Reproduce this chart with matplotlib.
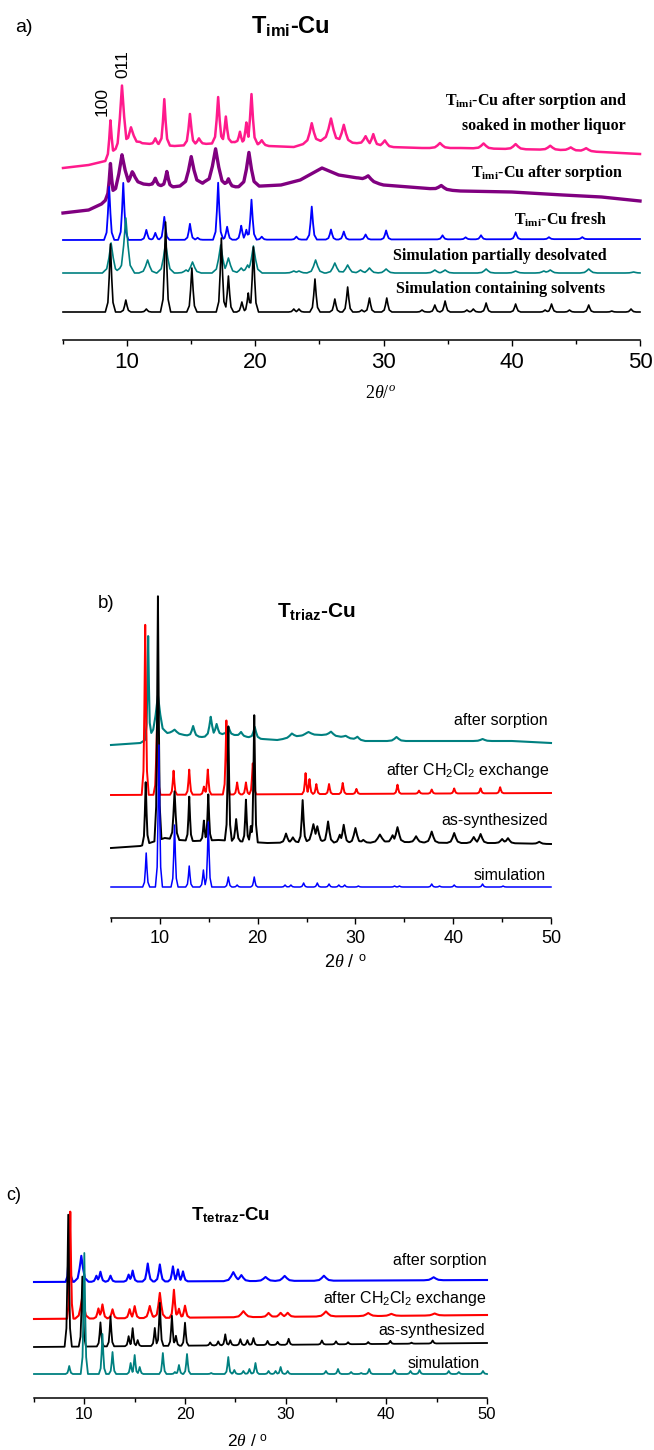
import numpy as np
import matplotlib
matplotlib.use('Agg')
import matplotlib.pyplot as plt

plt.rcParams['font.family'] = ['Liberation Sans', 'DejaVu Sans']
plt.rcParams['mathtext.fontset'] = 'custom'
plt.rcParams['mathtext.rm'] = 'Liberation Serif'
plt.rcParams['mathtext.it'] = 'Liberation Serif:italic'
plt.rcParams['mathtext.bf'] = 'Liberation Serif:bold'

W, H = 654, 1450

# ---------------- data (2theta in degrees, intensity in arbitrary offset units) ----------------
major_ticks = [10, 20, 30, 40, 50]
minor_ticks = [5, 15, 25, 35, 45]

# panel a) T_imi-Cu
a_black_bg = ([5, 50], [28, 28])
a_black_pos = [8.7, 9.9, 11.5, 13.0, 15.05, 17.35, 17.9, 18.95, 19.45, 19.85, 23.0, 23.4, 24.65, 26.2, 27.2,
               28.3, 28.9, 30.25, 33.0, 34.0, 34.8, 36.5, 37.0, 38.0, 40.3, 42.6, 43.1, 44.5, 46.0, 47.8, 49.3]
a_black_hgt = [68, 12, 3, 90, 44, 74, 36, 10, 19, 65, 3, 3, 33, 13, 25,
               2, 14, 14, 2, 7, 11, 2, 3, 9, 8, 2, 8, 2, 7, 1, 3]

a_teal_bg = ([5, 50], [67, 67])
a_teal_pos = [8.75, 9.9, 11.6, 13.0, 14.6, 15.1, 17.3, 17.9, 18.9, 19.4, 19.85, 23.0, 23.4, 24.7, 26.2, 27.2,
              28.2, 28.9, 30.2, 34.0, 34.8, 38.0, 40.3, 42.5, 43.0, 46.0, 49.5]
a_teal_hgt = [30, 55, 13, 30, 3, 11, 28, 15, 5, 8, 27, 2, 2, 13, 10, 8,
              3, 5, 4, 3, 3, 4, 2, 2, 3, 4, 1]

a_blue_bg = ([5, 50], [100, 101])
a_blue_pos = [8.6, 9.7, 11.5, 12.2, 12.9, 14.9, 15.5, 17.1, 17.8, 18.9, 19.3, 19.7, 20.5, 23.2, 24.4, 25.9,
              26.9, 28.6, 30.2, 34.6, 36.4, 37.6, 40.3, 42.9, 45.5]
a_blue_hgt = [53, 57, 10, 7, 23, 16, 2, 57, 13, 14, 10, 40, 3, 3, 33, 10,
              8, 5, 9, 4, 2, 4, 7, 2, 2]

a_purple_bg = ([5, 7, 8, 8.5, 10.5, 12, 13.5, 16, 18, 20.5, 22, 23.5, 25.2, 26.5, 28, 30, 33, 36, 40, 44, 47, 50],
               [127, 130, 136, 142, 157, 155, 153, 157, 153, 154, 155, 160, 172, 165, 162, 155, 152, 149, 148,
                145, 143, 139])
a_purple_pos = [8.7, 9.6, 10.4, 12.2, 13.1, 15.0, 16.9, 17.9, 19.5, 28.8, 34.5]
a_purple_hgt = [33, 35, 12, 7, 15, 28, 36, 8, 34, 5, 4]
a_purple_hw = [0.1, 0.25, 0.22, 0.12, 0.12, 0.22, 0.25, 0.14, 0.2, 0.22, 0.22]

a_pink_bg = ([5, 7, 8.3, 9.5, 11, 13.7, 16, 18.3, 21, 23, 24, 25.5, 27.8, 30.5, 33, 36, 40, 44, 47, 50],
             [172, 175, 179, 190, 197, 194, 196, 198, 194, 193, 197, 200, 197, 193, 192, 192, 191, 190, 188, 186])
a_pink_pos = [8.7, 9.6, 10.3, 12.2, 12.9, 14.9, 15.6, 17.1, 17.7, 18.8, 19.3, 19.7, 20.5, 24.4, 25.9, 26.9,
              28.6, 29.2, 30.1, 34.4, 37.8, 40.3, 43.0, 44.6, 45.8]
a_pink_hgt = [37, 64, 19, 6, 46, 31, 6, 46, 26, 11, 21, 50, 5, 19, 22, 17,
              8, 11, 6, 5, 5, 5, 4, 3, 3]
a_pink_hw = [0.1, 0.17, 0.22, 0.11, 0.11, 0.12, 0.14, 0.12, 0.11, 0.1, 0.1, 0.12, 0.14, 0.17, 0.2, 0.17,
             0.17, 0.14, 0.17, 0.2, 0.2, 0.2, 0.2, 0.2, 0.2]

a_labels = ['T$_{\\mathdefault{imi}}$-Cu after sorption and', 'soaked in mother liquor',
            'T$_{\\mathdefault{imi}}$-Cu after sorption', 'T$_{\\mathdefault{imi}}$-Cu fresh',
            'Simulation partially desolvated', 'Simulation containing solvents']
a_label_x = [49.0, 48.92, 48.68, 47.43, 47.36, 47.28]
a_label_y = [239, 214, 167, 120, 84, 51]
a_hkl = ['100', '011']
a_hkl_x = [8.04, 9.68]
a_hkl_y = [238, 276]

# panel b) T_triaz-Cu
b_blue_bg = ([5, 50], [31, 31])
b_blue_pos = [8.6, 9.9, 11.5, 13.0, 14.45, 14.95, 17.0, 17.9, 19.65, 22.8, 23.4, 24.7, 26.1, 27.3, 28.3, 28.9,
              30.3, 34.0, 34.5, 37.8, 38.6, 40.1, 43.0, 45.1]
b_blue_hgt = [34, 142, 62, 21, 17, 65, 10, 2, 10, 2, 2, 4, 4, 3, 2, 2,
              1, 1, 1, 3, 1, 2, 3, 1]

b_black_bg = ([5, 8, 10.5, 12, 13.5, 16, 21, 25, 30, 35, 40, 45, 50],
              [70, 72, 80, 78, 77, 78, 75, 76, 75, 76, 75, 75, 74])
b_black_pos = [8.55, 9.8, 11.5, 13.0, 14.5, 14.95, 17.0, 17.8, 18.8, 19.3, 19.65, 22.9, 23.6, 24.6, 25.7, 26.1,
               27.2, 28.4, 28.8, 30.0, 30.8, 32.5, 33.8, 34.3, 36.2, 37.8, 40.1, 42.1, 42.8, 45.0, 45.6, 48.8]
b_black_hgt = [62, 244, 48, 44, 20, 46, 114, 22, 42, 16, 127, 9, 5, 42, 18, 16,
               21, 8, 18, 15, 3, 8, 7, 15, 6, 11, 10, 6, 9, 4, 5, 2]
b_black_hw = [0.09, 0.09, 0.12, 0.09, 0.09, 0.09, 0.09, 0.11, 0.09, 0.09, 0.09, 0.15, 0.15, 0.11, 0.2, 0.18,
              0.15, 0.15, 0.15, 0.18, 0.18, 0.24, 0.18, 0.18, 0.18, 0.18, 0.18, 0.18, 0.18, 0.18, 0.18, 0.18]

b_red_bg = ([5, 50], [123, 125])
b_red_pos = [8.5, 9.7, 11.4, 13.0, 14.5, 14.9, 16.8, 17.9, 18.8, 19.5, 24.9, 25.3, 26.0, 27.3, 28.7, 30.1,
             34.3, 36.5, 37.8, 40.1, 42.8, 44.8]
b_red_hgt = [170, 68, 24, 25, 8, 25, 74, 12, 12, 31, 21, 15, 10, 10, 11, 5,
             9, 3, 4, 5, 5, 6]

b_teal_bg = ([5, 8, 9.3, 11, 12.5, 14.3, 16.5, 17.7, 19, 20.5, 22, 25, 27, 28.5, 31, 36, 40, 46, 50],
             [173, 175, 183, 185, 183, 181, 184, 183, 181, 179, 178, 183, 183, 181, 177, 177, 177, 177, 175])
b_teal_pos = [8.8, 9.8, 11.5, 13.4, 15.2, 15.8, 17.0, 18.3, 19.7, 23.5, 25.2, 27.5, 29.0, 30.2, 34.2, 43.0]
b_teal_hgt = [102, 39, 4, 10, 19, 11, 8, 4, 11, 4, 3, 4, 2, 3, 4, 2]
b_teal_hw = [0.08, 0.24, 0.24, 0.15, 0.15, 0.15, 0.15, 0.15, 0.15, 0.24, 0.3, 0.24, 0.24, 0.18, 0.24, 0.24]

bc_labels = ['after sorption', 'after CH$_{\\mathdefault{2}}$Cl$_{\\mathdefault{2}}$ exchange',
             'as-synthesized', 'simulation']
b_label_x = [49.68, 49.79, 49.68, 49.48]
b_label_y = [197, 148, 97, 43]

# panel c) T_tetraz-Cu
c_teal_bg = ([5, 50], [24, 24])
c_teal_pos = [8.5, 10.0, 11.8, 12.8, 14.6, 15.0, 15.5, 17.8, 19.0, 19.4, 20.2, 22.6, 24.3, 24.9, 25.8, 26.4,
              27.0, 28.3, 29.0, 29.5, 30.2, 34.0, 35.2, 36.5, 37.5, 38.3, 40.8, 42.4, 43.3, 46.2, 47.2, 49.6]
c_teal_hgt = [8, 121, 40, 22, 11, 19, 7, 21, 2, 9, 20, 1, 17, 4, 3, 5,
              11, 3, 3, 7, 3, 3, 5, 2, 1, 5, 4, 3, 4, 3, 2, 3]

c_black_bg = ([5, 50], [51, 55])
c_black_pos = [8.4, 9.8, 11.6, 12.6, 14.4, 14.8, 15.3, 17.0, 17.5, 18.7, 19.1, 20.0, 22.5, 23.3, 24.0, 24.5,
               25.5, 26.2, 26.8, 28.2, 29.2, 30.3, 33.6, 35.0, 36.2, 38.2, 40.4, 42.5, 44.6]
c_black_hgt = [132, 70, 24, 30, 10, 18, 6, 18, 43, 30, 10, 23, 3, 4, 11, 5,
               6, 5, 7, 4, 3, 6, 4, 3, 2, 2, 3, 1, 3]

c_red_bg = ([5, 50], [79, 83])
c_red_pos = [8.6, 9.8, 11.4, 11.8, 12.8, 14.5, 15.0, 16.5, 17.5, 18.9, 19.4, 20.0, 25.8, 28.3, 29.5, 30.2,
             34.0, 38.2, 40.5, 44.8]
c_red_hgt = [107, 22, 10, 14, 9, 9, 12, 12, 25, 28, 9, 12, 6, 4, 4, 4, 5, 3, 2, 2]
c_red_hw = [0.08, 0.18, 0.12, 0.12, 0.12, 0.12, 0.12, 0.15, 0.15, 0.11, 0.12, 0.12, 0.24, 0.18, 0.18, 0.18,
            0.24, 0.24, 0.24, 0.24]

c_blue_bg = ([5, 50], [116, 118])
c_blue_pos = [8.5, 9.7, 11.2, 11.6, 12.6, 14.4, 14.8, 16.3, 17.5, 18.8, 19.3, 19.8, 24.8, 25.6, 28.0, 29.9,
              33.8, 44.7]
c_blue_hgt = [40, 26, 6, 10, 6, 7, 11, 18, 17, 15, 12, 10, 9, 6, 4, 5, 5, 3]
c_blue_hw = [0.09, 0.18, 0.12, 0.12, 0.12, 0.12, 0.12, 0.13, 0.13, 0.12, 0.12, 0.12, 0.24, 0.21, 0.24, 0.24,
             0.24, 0.24]

c_label_x = [49.98, 49.9, 49.8, 49.3]
c_label_y = [137, 100, 67, 35]

# outline of one reflection, in units of its half width at half maximum
PEAK_D = [-4, -2, -1, 0, 1, 2, 4]
PEAK_F = [0, 0.14, 0.5, 1, 0.5, 0.14, 0]


def trace(bg, pos, hgt, hw):
    # polyline through the background anchors and each reflection's outline points
    bg_x, bg_y = np.asarray(bg[0], float), np.asarray(bg[1], float)
    pos = np.asarray(pos, float)
    hgt = np.asarray(hgt, float)
    hw = np.broadcast_to(np.asarray(hw, float), pos.shape)
    d = np.asarray(PEAK_D, float)
    x = np.unique(np.concatenate([bg_x] + [p + d * w for p, w in zip(pos, hw)]))
    x = x[(x >= 5) & (x <= 50)]
    prof = np.array([h * np.interp((x - p) / w, PEAK_D, PEAK_F) for p, h, w in zip(pos, hgt, hw)])
    return x, np.interp(x, bg_x, bg_y) + prof.max(axis=0)


fig = plt.figure(figsize=(W / 100, H / 100), dpi=100)


def make_axes(left, right, spine_y, top_y, tick_size, pad):
    ax = fig.add_axes([left / W, 1 - spine_y / H, (right - left) / W, (spine_y - top_y) / H])
    ax.set_xlim(5, 50)
    ax.set_ylim(0, spine_y - top_y)
    for s in ('left', 'right', 'top'):
        ax.spines[s].set_visible(False)
    ax.spines['bottom'].set_linewidth(1.1)
    ax.set_yticks([])
    ax.set_xticks(major_ticks)
    ax.set_xticks(minor_ticks, minor=True)
    ax.tick_params(axis='x', which='major', direction='out', length=4.3, width=1.0,
                   labelsize=tick_size, pad=pad)
    ax.tick_params(axis='x', which='minor', direction='out', length=2.9, width=1.0)
    ax.patch.set_alpha(0)
    return ax


def ftext(x, y, s, **kw):
    fig.text(x / W, 1 - y / H, s, **kw)


# ---------------- panel a ----------------
ax = make_axes(63, 640, 340, 40, 16, 4)
curves = [(a_pink_bg, a_pink_pos, a_pink_hgt, a_pink_hw, '#ff1a8c', 1.8),
          (a_purple_bg, a_purple_pos, a_purple_hgt, a_purple_hw, '#800080', 2.4),
          (a_blue_bg, a_blue_pos, a_blue_hgt, 0.1, '#0000ff', 1.3),
          (a_teal_bg, a_teal_pos, a_teal_hgt, 0.17, '#008080', 1.2),
          (a_black_bg, a_black_pos, a_black_hgt, 0.1, 'black', 1.2)]
for bg, pos, hgt, hw, col, lw in curves:
    x, y = trace(bg, pos, hgt, hw)
    ax.plot(x, y, color=col, lw=lw, clip_on=False)
for s, x, y in zip(a_labels, a_label_x, a_label_y):
    ax.text(x, y, s, ha='right', va='center', family='Liberation Serif', fontweight='bold', fontsize=11.5)
for s, x, y in zip(a_hkl, a_hkl_x, a_hkl_y):
    ax.text(x, y, s, ha='center', va='center', rotation=90, fontsize=12.5)
ftext(15, 27, 'a)', fontsize=14, va='center', ha='left')
ftext(290, 27, 'T$_{\\mathdefault{imi}}$-Cu', fontsize=17, fontweight='bold', ha='center', va='center')
ftext(380, 393, '$2\\theta/^{o}$', fontsize=13, ha='center', va='center')

# ---------------- panel b ----------------
ax = make_axes(111, 551, 918, 585, 13, 4)
curves = [(b_teal_bg, b_teal_pos, b_teal_hgt, b_teal_hw, '#008080', 1.5),
          (b_red_bg, b_red_pos, b_red_hgt, 0.09, '#ff0000', 1.4),
          (b_black_bg, b_black_pos, b_black_hgt, b_black_hw, 'black', 1.4),
          (b_blue_bg, b_blue_pos, b_blue_hgt, 0.09, '#0000ff', 1.1)]
for bg, pos, hgt, hw, col, lw in curves:
    x, y = trace(bg, pos, hgt, hw)
    ax.plot(x, y, color=col, lw=lw, clip_on=False)
for s, x, y in zip(bc_labels, b_label_x, b_label_y):
    ax.text(x, y, s, ha='right', va='center', fontsize=11.5)
ftext(98, 603, 'b)', fontsize=13.5, va='center', ha='left')
ftext(316, 611, 'T$_{\\mathdefault{triaz}}$-Cu', fontsize=15, fontweight='bold', ha='center', va='center')
ftext(345, 963, '2$\\theta$ / $^{\\mathdefault{o}}$', fontsize=13, ha='center', va='center')

# ---------------- panel c ----------------
ax = make_axes(34, 487, 1398, 1195, 12, 2.5)
curves = [(c_blue_bg, c_blue_pos, c_blue_hgt, c_blue_hw, '#0000ff', 1.5),
          (c_red_bg, c_red_pos, c_red_hgt, c_red_hw, '#ff0000', 1.5),
          (c_black_bg, c_black_pos, c_black_hgt, 0.09, 'black', 1.3),
          (c_teal_bg, c_teal_pos, c_teal_hgt, 0.09, '#008080', 1.3)]
for bg, pos, hgt, hw, col, lw in curves:
    x, y = trace(bg, pos, hgt, hw)
    ax.plot(x, y, color=col, lw=lw, clip_on=False)
for s, x, y in zip(bc_labels, c_label_x, c_label_y):
    ax.text(x, y, s, ha='right', va='center', fontsize=11.5)
ftext(6, 1195, 'c)', fontsize=13, va='center', ha='left')
ftext(231, 1215, 'T$_{\\mathdefault{tetraz}}$-Cu', fontsize=13.5, fontweight='bold', ha='center', va='center')
ftext(248, 1442, '2$\\theta$ / $^{\\mathdefault{o}}$', fontsize=12.5, ha='center', va='center')

fig.savefig('out.png', dpi=100)
